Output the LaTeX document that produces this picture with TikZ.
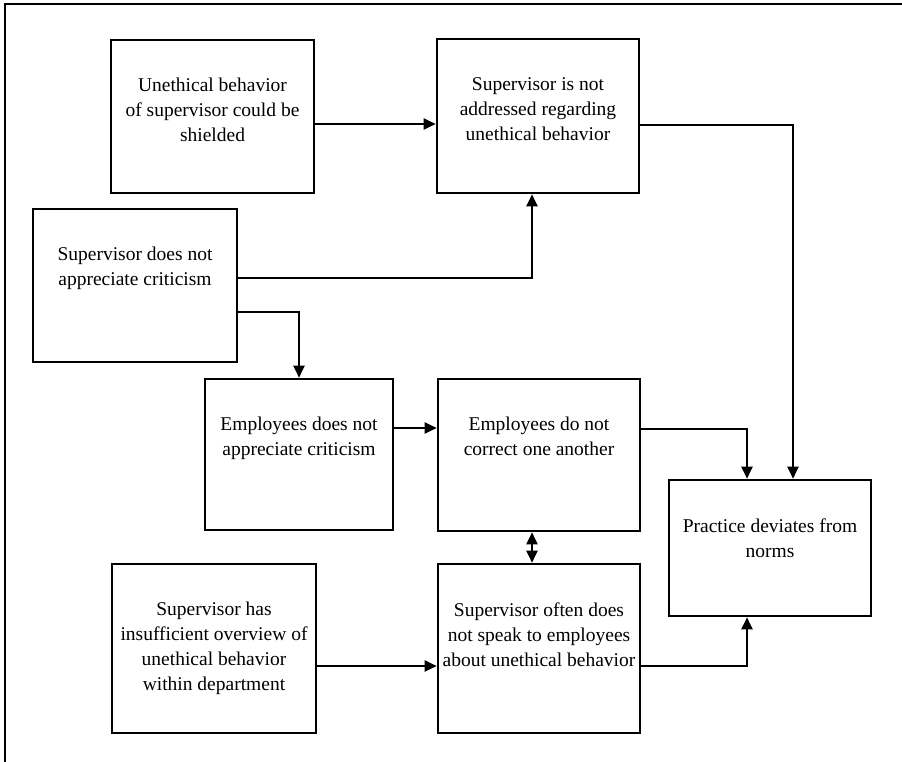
\documentclass[tikz,border=0pt]{standalone}
\usepackage{fontspec}
\setmainfont{Liberation Serif}
\usetikzlibrary{arrows.meta,calc}

\begin{document}
\begin{tikzpicture}[x=1pt,y=-1pt,
  blk/.style={draw, line width=2.6pt, inner sep=0pt},
  txt/.style={align=center, inner sep=0pt, anchor=north,
              font=\fontsize{19.5}{25}\selectfont},
  tip/.style={Triangle[length=12pt,width=11pt]},
  arr/.style={line width=2pt, -{Triangle[length=12pt,width=11pt]}},
  darr/.style={line width=2pt, {Triangle[length=12pt,width=11pt]}-{Triangle[length=12pt,width=11pt]}}
]
\useasboundingbox (0,0) rectangle (902,762);

% outer frame (left and top edges)
\draw[line width=2.8pt] (5,762) coordinate (fbl) -- (5,4) coordinate (ftl) -- (902,4) coordinate (ftr);

% boxes
\node[blk, minimum width=203pt, minimum height=153pt] (A) at (212.5,116.5) {};
\node[blk, minimum width=202pt, minimum height=154pt] (B) at (538,116) {};
\node[blk, minimum width=204pt, minimum height=153pt] (C) at (135,285.5) {};
\node[blk, minimum width=188pt, minimum height=151pt] (D) at (299,454.5) {};
\node[blk, minimum width=202pt, minimum height=152pt] (E) at (539,455) {};
\node[blk, minimum width=202pt, minimum height=136pt] (F) at (770,548) {};
\node[blk, minimum width=204pt, minimum height=169pt] (G) at (214,648.5) {};
\node[blk, minimum width=202pt, minimum height=169pt] (H) at (539,648.5) {};

% box texts, set from the top of each box
\node[txt] (At) at ([yshift=-39.5pt]A.north) {Unethical behavior\\of supervisor could be\\shielded};
\node[txt] (Bt) at ([yshift=-39.5pt]B.north) {Supervisor is not\\addressed regarding\\unethical behavior};
\node[txt] (Ct) at ([yshift=-39.5pt]C.north) {Supervisor does not\\appreciate criticism};
\node[txt] (Dt) at ([yshift=-39.5pt]D.north) {Employees does not\\appreciate criticism};
\node[txt] (Et) at ([yshift=-39.5pt]E.north) {Employees do not\\correct one another};
\node[txt] (Ft) at ([yshift=-39.5pt]F.north) {Practice deviates from\\norms};
\node[txt] (Gt) at ([yshift=-39.5pt]G.north) {Supervisor has\\insufficient overview of\\unethical behavior\\within department};
\node[txt] (Ht) at ([yshift=-39.5pt]H.north) {Supervisor often does\\not speak to employees\\about unethical behavior};

% connectors
\draw[arr] ([yshift=-7.5pt]A.east) coordinate (p1) -- (p1 -| B.west);
\draw[arr] ([yshift=7.5pt]C.east) -| ([xshift=-6pt]B.south);
\draw[arr] ([yshift=-26.5pt]C.east) -| (D.north);
\draw[arr] ([yshift=26.5pt]D.east) coordinate (p2) -- (p2 -| E.west);
\draw[arr] ([yshift=26pt]E.east) -| ([xshift=-23pt]F.north);
\draw[arr] ([yshift=-9pt]B.east) -| ([xshift=23pt]F.north);
\draw[darr] ([xshift=-7pt]E.south) -- ([xshift=-7pt]H.north);
\draw[arr] ([yshift=-17.5pt]G.east) coordinate (p3) -- (p3 -| H.west);
\draw[arr] ([yshift=-17.5pt]H.east) -| ([xshift=-23pt]F.south);
\end{tikzpicture}
\end{document}
